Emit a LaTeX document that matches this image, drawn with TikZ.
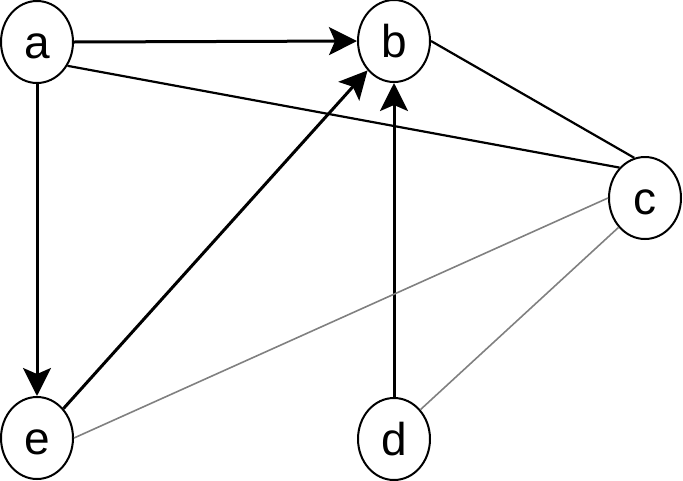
\documentclass[tikz,border=0pt]{standalone}
\usepackage{fontspec}
\setmainfont{Liberation Sans}
\usetikzlibrary{shapes.geometric,arrows.meta}
\begin{document}
\begin{tikzpicture}[x=1pt,y=-1pt,
  vertex/.style={ellipse,draw=black,line width=2pt,minimum width=72pt,minimum height=82pt,inner sep=0pt,
    font=\fontsize{46}{50}\selectfont,text height=33pt,text depth=1pt},
  arc/.style={line width=3pt,-{Stealth[length=28pt,width=28pt,inset=6pt]}},
  link/.style={line width=2.2pt},
  glink/.style={line width=1.6pt,draw=black!50}]
\useasboundingbox (0,0) rectangle (683,480);
\node[vertex] (a) at (37,42) {a};
\node[vertex] (b) at (394,41) {b};
\node[vertex] (c) at (645,198) {c};
\node[vertex] (e) at (37,438) {e};
\node[vertex] (d) at (394,439) {d};
\draw[arc] (a.east) -- (b.west);
\draw[arc] (a.south) -- (e.north);
\draw[arc] (e) -- (b);
\draw[arc] (d.north) -- (b.south);
\draw[link] (a.-38) -- (c.130);
\draw[link] (b.east) -- (c.105);
\draw[glink] (e.east) -- (c.west);
\draw[glink] (d.48) -- (c.228);
\end{tikzpicture}
\end{document}
